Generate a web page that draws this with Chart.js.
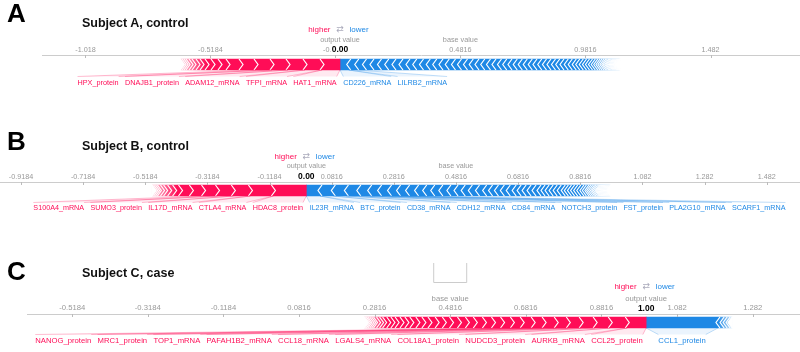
<!DOCTYPE html>
<html lang="en">
<head>
  <meta charset="UTF-8">
  <title>SHAP force plots</title>
  <script src="https://cdn.jsdelivr.net/npm/chart.js"></script>
  <style>
    body { margin: 0; background: #fff; font-family: "Liberation Sans", Arial, sans-serif; }
    #page { position: relative; width: 800px; height: 352px; overflow: hidden; }
    canvas { position: absolute; left: 0; }
    .letter { position: absolute; left: 7px; font-weight: bold; font-size: 26px; line-height: 26px; color: #000; }
    .title { position: absolute; left: 82px; font-weight: bold; font-size: 12.5px; line-height: 12.5px; color: #111; white-space: nowrap; }
  </style>
</head>
<body>
<div id="page">
  <canvas id="chartA" width="800" height="100" style="top:0px"></canvas>
  <canvas id="chartB" width="800" height="130" style="top:100px"></canvas>
  <canvas id="chartC" width="800" height="122" style="top:230px"></canvas>
  <div class="letter" style="top:0px">A</div>
  <div class="title" style="top:17px">Subject A, control</div>
  <div class="letter" style="top:128px">B</div>
  <div class="title" style="top:140px">Subject B, control</div>
  <div class="letter" style="top:258px">C</div>
  <div class="title" style="top:267px">Subject C, case</div>
</div>
<script>
  const RED = 'rgb(255, 13, 87)';
  const BLUE = 'rgb(30, 136, 229)';
  const GREY = '#999';
  const FONT = '"Liberation Sans", Arial, sans-serif';
  Chart.defaults.font.family = FONT;

  const baseValue = 0.4816;

  // Subject A, control  (red / blue contributions listed from the output value outwards)
  const aOutput = 0.00;
  const aTicks = [-1.018, -0.5184, -0.0184, 0.4816, 0.9816, 1.482];
  const aRedNames = ['HAT1_mRNA', 'TFPI_mRNA', 'ADAM12_mRNA', 'DNAJB1_protein', 'HPX_protein'];
  const aRedValues = [0.072, 0.068, 0.068, 0.064, 0.064, 0.060, 0.052, 0.032, 0.028, 0.024,
    0.020, 0.016, 0.016, 0.012, 0.012, 0.008, 0.008, 0.008, 0.004];
  const aBlueNames = ['CD226_mRNA', 'LILRB2_mRNA'];
  const aBlueValues = [0.035, 0.032, 0.031, 0.030, 0.030, 0.029, 0.029, 0.028, 0.028, 0.027,
    0.027, 0.027, 0.026, 0.025, 0.025, 0.025, 0.024, 0.024, 0.023, 0.023,
    0.023, 0.023, 0.022, 0.022, 0.021, 0.021, 0.021, 0.020, 0.020, 0.020,
    0.019, 0.019, 0.019, 0.018, 0.018, 0.017, 0.017, 0.017, 0.016, 0.016,
    0.014, 0.014, 0.013, 0.012, 0.012, 0.011, 0.010, 0.009, 0.008, 0.008,
    0.007, 0.006, 0.006, 0.005, 0.005, 0.005, 0.004, 0.004, 0.004, 0.004,
    0.003, 0.003, 0.003, 0.003, 0.002, 0.002, 0.002, 0.002];

  // Subject B, control
  const bOutput = 0.00;
  const bTicks = [-0.9184, -0.7184, -0.5184, -0.3184, -0.1184, 0.0816, 0.2816, 0.4816, 0.6816, 0.8816, 1.082, 1.282, 1.482];
  const bRedNames = ['HDAC8_protein', 'CTLA4_mRNA', 'IL17D_mRNA', 'SUMO3_protein', 'S100A4_mRNA'];
  const bRedValues = [0.106, 0.074, 0.055, 0.051, 0.045, 0.039, 0.035, 0.019, 0.016, 0.013,
    0.010, 0.010, 0.006, 0.006, 0.005, 0.003, 0.003];
  const bBlueNames = ['IL23R_mRNA', 'BTC_protein', 'CD38_mRNA', 'CDH12_mRNA', 'CD84_mRNA',
    'NOTCH3_protein', 'FST_protein', 'PLA2G10_mRNA', 'SCARF1_mRNA'];
  const bBlueValues = [0.044, 0.043, 0.042, 0.040, 0.035, 0.032, 0.032, 0.029, 0.029, 0.029,
    0.026, 0.026, 0.026, 0.026, 0.023, 0.023, 0.023, 0.023, 0.023, 0.019,
    0.019, 0.019, 0.019, 0.019, 0.016, 0.016, 0.016, 0.016, 0.016, 0.013,
    0.013, 0.013, 0.013, 0.013, 0.013, 0.010, 0.010, 0.010, 0.010, 0.010,
    0.010, 0.008, 0.008, 0.006, 0.006, 0.006, 0.005, 0.005, 0.005, 0.003,
    0.003, 0.003, 0.003, 0.003, 0.003, 0.003, 0.003, 0.003, 0.003, 0.003,
    0.003, 0.002, 0.002, 0.002];

  // Subject C, case
  const cOutput = 1.00;
  const cTicks = [-0.5184, -0.3184, -0.1184, 0.0816, 0.2816, 0.4816, 0.6816, 0.8816, 1.082, 1.282];
  const cRedNames = ['CCL25_protein', 'AURKB_mRNA', 'NUDCD3_protein', 'COL18A1_protein', 'LGALS4_mRNA',
    'CCL18_mRNA', 'PAFAH1B2_mRNA', 'TOP1_mRNA', 'MRC1_protein', 'NANOG_protein'];
  const cRedValues = [0.050, 0.045, 0.040, 0.037, 0.034, 0.032, 0.032, 0.029, 0.029, 0.026,
    0.026, 0.024, 0.024, 0.024, 0.021, 0.021, 0.021, 0.019, 0.019, 0.019,
    0.016, 0.016, 0.016, 0.013, 0.013, 0.013, 0.011, 0.011, 0.011, 0.008,
    0.008, 0.008, 0.005, 0.005, 0.005, 0.004, 0.004, 0.003, 0.003];
  const cBlueNames = ['CCL1_protein'];
  const cBlueValues = [0.190, 0.011, 0.008, 0.008, 0.005, 0.005];

  function sum(arr) { return arr.reduce((s, v) => s + v, 0); }

  // lines + faint band from a bar segment down to its label
  function connector(ctx, sl, sr, ll, lr, y0, y1, rgb) {
    ctx.beginPath();
    ctx.moveTo(sl, y0); ctx.lineTo(sr, y0); ctx.lineTo(lr, y1); ctx.lineTo(ll, y1);
    ctx.closePath();
    ctx.fillStyle = 'rgba(' + rgb + ',0.09)';
    ctx.fill();
    ctx.beginPath();
    ctx.moveTo(sl, y0); ctx.lineTo(ll, y1);
    ctx.moveTo(sr, y0); ctx.lineTo(lr, y1);
    ctx.strokeStyle = 'rgba(' + rgb + ',0.45)';
    ctx.lineWidth = 0.6;
    ctx.stroke();
  }

  const forcePlot = {
    id: 'forcePlot',
    afterDatasetsDraw(chart, args, o) {
      const ctx = chart.ctx, xs = chart.scales.x;
      const bar = chart.getDatasetMeta(0).data[0];
      const top = bar.y - bar.height / 2, bot = bar.y + bar.height / 2, mid = bar.y;
      const outPx = xs.getPixelForValue(o.output);
      const d = 4;

      // segment edges, from the output value outwards
      const redEdges = [outPx], blueEdges = [outPx];
      let acc = o.output;
      o.red.forEach(v => { acc -= v; redEdges.push(xs.getPixelForValue(acc)); });
      acc = o.output;
      o.blue.forEach(v => { acc += v; blueEdges.push(xs.getPixelForValue(acc)); });
      const redStart = redEdges[redEdges.length - 1];
      const blueEnd = blueEdges[blueEdges.length - 1];

      ctx.save();
      ctx.beginPath();
      ctx.rect(0, top - 1, chart.width, bot - top + 2);
      ctx.clip();
      ctx.strokeStyle = '#fff';
      ctx.lineWidth = 1.2;
      redEdges.slice(1, -1).forEach(b => {
        ctx.beginPath();
        ctx.moveTo(b - d / 2, top); ctx.lineTo(b + d / 2, mid); ctx.lineTo(b - d / 2, bot);
        ctx.stroke();
      });
      blueEdges.slice(1, -1).forEach(b => {
        ctx.beginPath();
        ctx.moveTo(b + d / 2, top); ctx.lineTo(b - d / 2, mid); ctx.lineTo(b + d / 2, bot);
        ctx.stroke();
      });
      // end notches
      ctx.fillStyle = '#fff';
      ctx.beginPath();
      ctx.moveTo(redStart - 1, top - 1); ctx.lineTo(redStart + d, mid); ctx.lineTo(redStart - 1, bot + 1);
      ctx.fill();
      ctx.beginPath();
      ctx.moveTo(blueEnd + 1, top - 1); ctx.lineTo(blueEnd - d, mid); ctx.lineTo(blueEnd + 1, bot + 1);
      ctx.fill();
      // fading tails
      let g = ctx.createLinearGradient(redStart, 0, redStart + o.fadeRed, 0);
      g.addColorStop(0, 'rgba(255,255,255,0.75)');
      g.addColorStop(1, 'rgba(255,255,255,0)');
      ctx.fillStyle = g;
      ctx.fillRect(redStart - 1, top - 1, o.fadeRed + 1, bot - top + 2);
      g = ctx.createLinearGradient(blueEnd, 0, blueEnd - o.fadeBlue, 0);
      g.addColorStop(0, 'rgba(255,255,255,0.75)');
      g.addColorStop(1, 'rgba(255,255,255,0)');
      ctx.fillStyle = g;
      ctx.fillRect(blueEnd - o.fadeBlue, top - 1, o.fadeBlue + 1, bot - top + 2);
      ctx.restore();

      // feature labels, packed outwards from the output value
      ctx.save();
      ctx.font = o.fs + 'px ' + FONT;
      ctx.textBaseline = 'middle';
      ctx.textAlign = 'left';
      const ly = bot + 12.5;
      const gap = 6.3;
      let edge = outPx - 3.3;
      o.redNames.forEach((name, i) => {
        const sr = redEdges[i], sl = redEdges[i + 1];
        const w = ctx.measureText(name).width;
        const right = Math.min((sl + sr) / 2 + w / 2, edge);
        const left = right - w;
        edge = left - gap;
        connector(ctx, sl, sr, left, right, bot, ly - 6, '255,13,87');
        ctx.fillStyle = RED;
        ctx.fillText(name, left, ly);
      });
      edge = outPx + 3.3;
      o.blueNames.forEach((name, i) => {
        const sl = blueEdges[i], sr = blueEdges[i + 1];
        const w = ctx.measureText(name).width;
        const left = Math.max((sl + sr) / 2 - w / 2, edge);
        const right = left + w;
        edge = right + gap;
        connector(ctx, sl, sr, left, right, bot, ly - 6, '30,136,229');
        ctx.fillStyle = BLUE;
        ctx.fillText(name, left, ly);
      });
      ctx.restore();
    },
    afterDraw(chart, args, o) {
      const ctx = chart.ctx, xs = chart.scales.x;
      const axisY = chart.chartArea.top;
      const outPx = xs.getPixelForValue(o.output);
      const basePx = xs.getPixelForValue(baseValue);
      ctx.save();
      // small tick marks under the axis line
      ctx.strokeStyle = '#bbb';
      ctx.lineWidth = 1;
      xs.ticks.forEach(t => {
        const px = Math.round(xs.getPixelForValue(t.value)) + 0.5;
        ctx.beginPath(); ctx.moveTo(px, axisY); ctx.lineTo(px, axisY + 3); ctx.stroke();
      });
      ctx.textBaseline = 'middle';
      ctx.textAlign = 'center';
      ctx.font = o.fs + 'px ' + FONT;
      ctx.fillStyle = GREY;
      ctx.fillText('base value', basePx, axisY - 15.5);
      ctx.fillText('output value', outPx, axisY - 15.5);
      // output value, on a white backing over the tick label
      ctx.font = 'bold 8.5px ' + FONT;
      const txt = o.output.toFixed(2);
      const w = ctx.measureText(txt).width;
      ctx.fillStyle = '#fff';
      ctx.fillRect(outPx - w / 2 - 1, axisY - 10.5, w + 2, 9.5);
      ctx.fillStyle = '#000';
      ctx.fillText(txt, outPx, axisY - 5.5);
      // higher / lower legend
      const hy = axisY - o.legendUp;
      ctx.font = '8px ' + FONT;
      ctx.textAlign = 'right';
      ctx.fillStyle = RED;
      ctx.fillText('higher', outPx - 9.5, hy);
      ctx.textAlign = 'left';
      ctx.fillStyle = BLUE;
      ctx.fillText('lower', outPx + 9.5, hy);
      ctx.textAlign = 'center';
      ctx.font = '9px "DejaVu Sans"';
      ctx.fillStyle = '#aab';
      ctx.fillText('\u21c4', outPx, hy);
      if (o.baseBox) {
        ctx.strokeStyle = '#ccc';
        ctx.beginPath();
        ctx.moveTo(basePx - 16.5, axisY - 51);
        ctx.lineTo(basePx - 16.5, axisY - 31.5);
        ctx.lineTo(basePx + 16.5, axisY - 31.5);
        ctx.lineTo(basePx + 16.5, axisY - 51);
        ctx.stroke();
      }
      ctx.restore();
    }
  };

  function makeChart(id, p) {
    const redSum = sum(p.red), blueSum = sum(p.blue);
    return new Chart(document.getElementById(id), {
      type: 'bar',
      data: {
        labels: [''],
        datasets: [
          { data: [[p.output - redSum, p.output]], backgroundColor: RED, borderWidth: 0, grouped: false, barThickness: 11 },
          { data: [[p.output, p.output + blueSum]], backgroundColor: BLUE, borderWidth: 0, grouped: false, barThickness: 11 }
        ]
      },
      options: {
        indexAxis: 'y',
        responsive: false,
        animation: false,
        events: [],
        layout: { padding: { left: p.left, right: 0, top: 0, bottom: p.padBottom } },
        scales: {
          x: {
            type: 'linear',
            position: 'top',
            min: p.min,
            max: p.max,
            afterBuildTicks: s => { s.ticks = p.ticks.map(v => ({ value: v })); },
            afterFit: s => { s.height = p.axisY; },
            grid: { display: false, drawTicks: false, tickLength: 0 },
            border: { display: true, color: '#ccc', width: 1 },
            ticks: { color: GREY, font: { size: p.fs }, padding: 1, maxRotation: 0, autoSkip: false, callback: v => String(v) }
          },
          y: { display: false }
        },
        plugins: {
          legend: { display: false },
          tooltip: { enabled: false },
          forcePlot: {
            output: p.output, red: p.red, blue: p.blue,
            redNames: p.redNames, blueNames: p.blueNames,
            fadeRed: p.fadeRed, fadeBlue: p.fadeBlue,
            legendUp: p.legendUp, baseBox: p.baseBox, fs: p.fs
          }
        }
      },
      plugins: [forcePlot]
    });
  }

  makeChart('chartA', {
    output: aOutput, ticks: aTicks, red: aRedValues, blue: aBlueValues,
    redNames: aRedNames, blueNames: aBlueNames,
    min: -1.192, max: 1.84, left: 42, axisY: 55, padBottom: 26, fs: 7.25,
    fadeRed: 25, fadeBlue: 28, legendUp: 25, baseBox: false
  });
  makeChart('chartB', {
    output: bOutput, ticks: bTicks, red: bRedValues, blue: bBlueValues,
    redNames: bRedNames, blueNames: bBlueNames,
    min: -0.986, max: 1.589, left: 0, axisY: 82, padBottom: 31, fs: 7.2,
    fadeRed: 25, fadeBlue: 28, legendUp: 25, baseBox: false
  });
  makeChart('chartC', {
    output: cOutput, ticks: cTicks, red: cRedValues, blue: cBlueValues,
    redNames: cRedNames, blueNames: cBlueNames,
    min: -0.638, max: 1.407, left: 27, axisY: 84, padBottom: 21, fs: 7.7,
    fadeRed: 22, fadeBlue: 14, legendUp: 27, baseBox: true
  });
</script>
</body>
</html>
